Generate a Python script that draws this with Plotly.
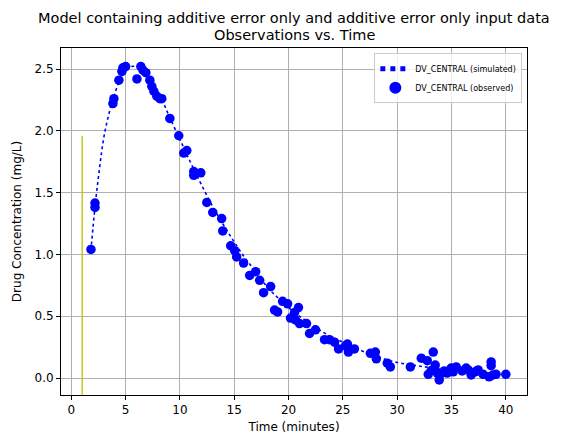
import plotly.graph_objects as go

# Observed data
obs_time = [1.81, 2.18, 2.18, 3.83, 3.92, 4.38, 4.66, 4.75, 5.0, 6.04, 6.4, 6.6, 6.86, 7.23, 7.41, 7.6,
            7.87, 8.15, 8.33, 9.07, 9.89, 10.35, 10.63, 11.27, 11.27, 11.92, 12.47, 13.02, 13.84, 13.94,
            14.67, 15.04, 15.22, 15.86, 16.42, 16.97, 17.34, 17.7, 18.35, 18.71, 18.99, 19.45, 19.91,
            20.18, 20.55, 20.91, 20.64, 21.01, 21.65, 21.93, 22.48, 23.31, 23.77, 24.23, 24.6, 25.24,
            25.42, 25.51, 26.06, 27.53, 27.99, 28.08, 29.09, 29.37, 31.21, 32.22, 32.77, 32.86, 33.14,
            33.32, 33.5, 33.69, 33.87, 33.96, 34.33, 34.6, 34.97, 35.16, 35.43, 35.98, 36.35, 36.53,
            36.81, 37.18, 37.45, 37.91, 38.65, 38.65, 38.46, 38.83, 39.1, 40.0]
obs_conc = [1.04, 1.415, 1.38, 2.22, 2.26, 2.41, 2.48, 2.51, 2.52, 2.42, 2.52, 2.49, 2.47, 2.41, 2.36, 2.32,
            2.28, 2.26, 2.26, 2.10, 1.96, 1.82, 1.84, 1.67, 1.64, 1.66, 1.42, 1.34, 1.29, 1.19,
            1.07, 1.03, 0.98, 0.93, 0.83, 0.86, 0.79, 0.69, 0.74, 0.55, 0.535, 0.62, 0.60,
            0.485, 0.53, 0.57, 0.47, 0.44, 0.44, 0.36, 0.39, 0.31, 0.31, 0.29, 0.235, 0.26,
            0.275, 0.21, 0.235, 0.20, 0.21, 0.155, 0.12, 0.09, 0.09, 0.16, 0.14, 0.03, 0.06,
            0.21, 0.105, 0.04, -0.016, 0.03, 0.057, 0.04, 0.08, 0.05, 0.09, 0.057, 0.08, 0.065,
            0.025, 0.05, 0.065, 0.03, 0.13, 0.10, 0.01, 0.025, 0.03, 0.03]

# Simulated curve
sim_time = [1.8, 2.2, 2.6, 3.0, 3.5, 4.0, 4.5, 5.0, 5.5, 6.0, 6.5, 7.0, 7.5, 8.0, 8.5, 9.0, 10, 11, 12,
            13, 14, 15, 16, 17, 18, 19, 20, 21, 22, 23, 24, 25, 26, 27, 28, 29, 30, 31, 32, 33, 34, 35,
            36, 37, 38, 39, 40]
sim_conc = [1.03, 1.40, 1.70, 1.95, 2.15, 2.30, 2.42, 2.49, 2.52, 2.52, 2.50, 2.45, 2.38, 2.30, 2.22,
            2.12, 1.93, 1.74, 1.56, 1.39, 1.24, 1.10, 0.97, 0.86, 0.74, 0.65, 0.57, 0.50, 0.44, 0.38,
            0.33, 0.29, 0.25, 0.21, 0.18, 0.15, 0.125, 0.11, 0.097, 0.085, 0.075, 0.065, 0.055, 0.05,
            0.043, 0.038, 0.033]

# Dose marker
dose_time = [1, 1]
dose_level = [-0.15, 1.96]

x_ticks = [0, 5, 10, 15, 20, 25, 30, 35, 40]
y_ticks = [0.0, 0.5, 1.0, 1.5, 2.0, 2.5]

title_lines = ["Model containing additive error only and additive error only input data",
               "Observations vs. Time"]

FONT = "DejaVu Sans"

fig = go.Figure()
fig.add_trace(go.Scatter(x=dose_time, y=dose_level, mode="lines",
                         line=dict(color="#bfbf00", width=1.3), showlegend=False, hoverinfo="skip"))
fig.add_trace(go.Scatter(x=sim_time, y=sim_conc, mode="lines", name="DV_CENTRAL (simulated)",
                         line=dict(color="#0000ff", width=1.6, dash="dot", shape="spline")))
fig.add_trace(go.Scatter(x=obs_time, y=obs_conc, mode="markers", name="DV_CENTRAL (observed)",
                         marker=dict(color="#0000ff", size=9.5, line=dict(width=0))))

for i, txt in enumerate(title_lines):
    fig.add_annotation(text=txt, xref="paper", yref="paper", x=0.5, xanchor="center",
                       y=1 + (30 - 17 * i) / 347, yanchor="middle", showarrow=False,
                       font=dict(family=FONT, size=14.5, color="black"))

fig.update_layout(
    width=571, height=434,
    margin=dict(l=61, r=44, t=48, b=39, autoexpand=False),
    paper_bgcolor="white", plot_bgcolor="white",
    font=dict(family=FONT, size=12, color="black"),
    legend=dict(x=0.99, y=0.985, xanchor="right", yanchor="top", bgcolor="rgba(255,255,255,0.8)",
                bordercolor="#cccccc", borderwidth=1, font=dict(family=FONT, size=8),
                tracegroupgap=0, itemsizing="constant"),
    showlegend=True,
)
fig.update_xaxes(range=[-0.95, 41.95], tickvals=x_ticks, ticktext=[str(v) for v in x_ticks],
                 automargin=False,
                 showgrid=True, gridcolor="#b0b0b0", gridwidth=1, zeroline=False,
                 showline=True, linecolor="black", linewidth=1, mirror=True,
                 ticks="outside", ticklen=4, tickcolor="black",
                 tickfont=dict(family=FONT, size=12),
                 title=dict(text="Time (minutes)", font=dict(family=FONT, size=12), standoff=7))
fig.update_yaxes(range=[-0.1375, 2.67], tickvals=y_ticks, ticktext=[f"{v:.1f}" for v in y_ticks],
                 automargin=False,
                 showgrid=True, gridcolor="#b0b0b0", gridwidth=1, zeroline=False,
                 showline=True, linecolor="black", linewidth=1, mirror=True,
                 ticks="outside", ticklen=4, tickcolor="black",
                 tickfont=dict(family=FONT, size=12),
                 title=dict(text="Drug Concentration (mg/L)", font=dict(family=FONT, size=12), standoff=10))

fig.write_html("out.html")
